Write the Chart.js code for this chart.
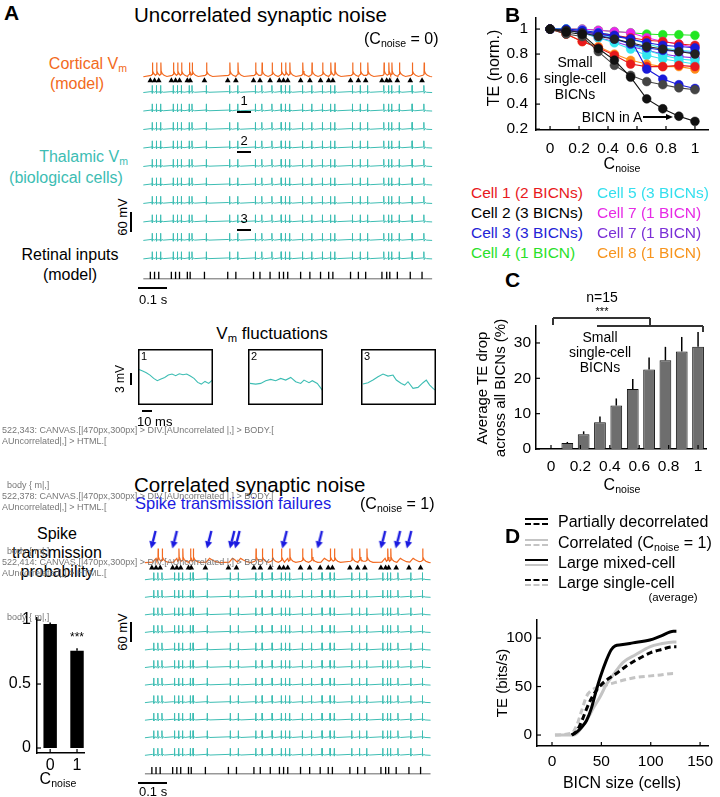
<!DOCTYPE html>
<html>
<head>
<meta charset="utf-8">
<script src="https://cdn.jsdelivr.net/npm/chart.js@4.4.1/dist/chart.umd.min.js"></script>
<style>
  body { margin: 0; background: #fff; font-family: "Liberation Sans", Arial, sans-serif; }
  #fig { position: relative; width: 720px; height: 797px; overflow: hidden; }
  #fig canvas { position: absolute; }
  .t { position: absolute; white-space: nowrap; line-height: 1; z-index: 10; }
  .t sub { font-size: 66%; vertical-align: -0.3em; line-height: 0; }
  .ln { position: absolute; z-index: 10; }
</style>
</head>
<body>
<div id="fig"></div>
<script>
// ---- data ----
// B: normalised TE vs Cnoise, one array per BICN
const cNoise = [0, 0.111, 0.222, 0.333, 0.444, 0.556, 0.667, 0.778, 0.889, 1];
const cell2BicnA = [1, 0.976, 0.957, 0.844, 0.752, 0.615, 0.442, 0.363, 0.303, 0.262];
const cell2b = [1, 0.96, 0.94, 0.82, 0.71, 0.63, 0.58, 0.555, 0.53, 0.515];
const cell2c = [1, 0.99, 0.97, 0.94, 0.92, 0.89, 0.86, 0.84, 0.82, 0.80];
const cell1a = [1, 0.99, 0.98, 0.96, 0.95, 0.93, 0.91, 0.90, 0.88, 0.87];
const cell1b = [1, 0.96, 0.90, 0.85, 0.79, 0.72, 0.70, 0.70, 0.71, 0.70];
const cell3a = [1, 0.99, 0.98, 0.96, 0.94, 0.92, 0.68, 0.60, 0.555, 0.525];
const cell3b = [1, 1, 0.99, 0.97, 0.95, 0.92, 0.89, 0.87, 0.86, 0.85];
const cell3c = [1, 0.99, 0.97, 0.95, 0.92, 0.88, 0.85, 0.83, 0.82, 0.81];
const cell4 = [1, 1, 1, 0.99, 0.98, 0.97, 0.96, 0.955, 0.955, 0.95];
const cell5a = [1, 1, 0.99, 0.96, 0.93, 0.88, 0.83, 0.79, 0.76, 0.75];
const cell5b = [1, 0.99, 0.97, 0.93, 0.89, 0.84, 0.79, 0.76, 0.74, 0.72];
const cell5c = [1, 1, 0.99, 0.97, 0.95, 0.92, 0.88, 0.85, 0.83, 0.82];
const cell7m = [1, 1, 1, 0.99, 0.98, 0.97, 0.93, 0.90, 0.88, 0.85];
const cell7p = [1, 0.99, 0.97, 0.93, 0.90, 0.86, 0.83, 0.80, 0.78, 0.77];
const cell8 = [1, 0.96, 0.90, 0.86, 0.80, 0.75, 0.72, 0.70, 0.70, 0.68];

// C: average TE drop (%) and upper error
const teDrop = [0, 1.7, 4.2, 7.6, 12.3, 17.0, 22.5, 25.1, 27.6, 28.9];
const teDropErr = [0, 0.3, 0.8, 1.6, 2.0, 2.8, 3.4, 3.8, 4.1, 4.2];
const cTicksY = [0, 10, 20, 30];

// D: TE (bits/s) vs BICN size
const mixDecX = [20, 25, 30, 35, 40, 44, 49, 55, 60, 64, 70, 82, 99, 110, 123, 126];
const mixDecY = [0, 3, 8, 15, 28, 43, 60, 77, 88, 92, 93, 95, 98, 102, 107, 107];
const mixCorX = [3, 22, 28, 35, 42, 49, 55, 62, 72, 85, 99, 110, 123, 126];
const mixCorY = [0, 0, 5, 15, 28, 40, 52, 62, 75, 83, 91, 94, 96, 96];
const sglDecX = [20, 25, 30, 35, 40, 45, 50, 57, 66, 75, 83, 92, 100, 110, 123, 126];
const sglDecY = [0, 4, 14, 27, 38, 46, 52, 58, 64, 71, 76, 81, 85, 88, 91, 91];
const sglCorX = [3, 20, 25, 30, 35, 40, 49, 60, 70, 83, 100, 110, 123, 126];
const sglCorY = [0, 2, 10, 25, 40, 46, 50, 53, 56, 59, 61, 62, 63.5, 63];

// spike transmission probability
const probNoise = [0, 1];
const probVal = [0.97, 0.76];
const probErr = [0.01, 0.02];

// A: retinal input times (ms) and cortical failures / arrows in the correlated case
const retinalMs = [25, 40, 55, 100, 115, 129, 157, 167, 218, 301, 330, 393, 416, 452, 485, 500, 515,
  561, 594, 632, 661, 676, 739, 767, 793, 851, 868, 879, 906, 952, 994];
const failMs = [25, 100, 218, 301, 330, 500, 632, 851, 906, 952];
const arrowMs = [38, 115, 239, 322, 341, 511, 638, 866, 920, 960];

// Vm fluctuation insets (ms, mV relative)
const vm1T = [0, 3.7, 7.3, 11, 14.7, 18.3, 22, 25.7, 29.3, 33, 36.7, 40.3, 44, 47.7, 51.3, 55, 58.7, 62.3, 66, 69.7, 73.3];
const vm1V = [0, -0.42, -0.83, -1.42, -2.25, -2.83, -2.42, -2.0, -1.42, -1.17, -1.58, -1.08, -1.33, -1.17, -1.67, -2.25, -3.25, -3.67, -3.0, -3.5, -2.67];
const vm2T = [1, 6.7, 11.7, 16.7, 21.7, 26.7, 31.7, 36.7, 41.7, 46.7, 51.7, 55, 60, 63.3, 68.3, 73.3];
const vm2V = [-3.5, -3.67, -3.5, -2.83, -2.5, -2.83, -2.25, -2.67, -2.0, -3.08, -3.5, -2.67, -3.33, -2.83, -3.5, -5.17];
const vm3T = [1, 6, 11, 16, 21, 26, 31, 34.3, 39.3, 42.7, 46, 51, 56, 61, 64.3, 67.7, 71, 73.3];
const vm3V = [-3.67, -3.33, -2.67, -1.83, -1.17, -1.67, -1.42, -2.67, -3.5, -3.92, -3.08, -4.75, -4.5, -3.33, -2.67, -3.92, -4.75, -5.17];

// ---- styling ----
const ORANGE = '#f26a21', TEAL = '#3dbdb3', BLUE = '#1a1ae0', GREY = '#c4c4c4';
const fig = document.getElementById('fig');
Chart.defaults.font.family = '"Liberation Sans", Arial, sans-serif';
Chart.defaults.color = '#000';
Chart.defaults.animation = false;

function txt(html, x, y, o = {}) {
  const d = document.createElement('div');
  d.className = 't';
  d.innerHTML = html;
  d.style.fontSize = (o.size || 16) + 'px';
  d.style.color = o.color || '#000';
  if (o.bold) d.style.fontWeight = 'bold';
  d.style.left = x + 'px';
  d.style.top = y + 'px';
  const ax = o.anchor === 'r' ? '-100%' : o.anchor === 'l' ? '0' : '-50%';
  d.style.transform = `translate(${ax},-50%)` + (o.rot ? ' rotate(-90deg)' : '');
  fig.appendChild(d);
  return d;
}
function rect(x, y, w, h, css) {
  const d = document.createElement('div');
  d.className = 'ln';
  Object.assign(d.style, { left: x + 'px', top: y + 'px', width: w + 'px', height: h + 'px' }, css);
  fig.appendChild(d);
}
function hline(x1, x2, y, w = 1.3, c = '#000') { rect(x1, y - w / 2, x2 - x1, w, { background: c }); }
function vline(x, y1, y2, w = 1.3, c = '#000') { rect(x - w / 2, y1, w, y2 - y1, { background: c }); }
function canvasAt(l, t, w, h) {
  const c = document.createElement('canvas');
  c.width = w; c.height = h;
  c.style.left = l + 'px'; c.style.top = t + 'px';
  fig.appendChild(c);
  return c;
}

// small inward tick marks on both axes
const inTicks = {
  id: 'inTicks',
  afterDraw(chart) {
    const { ctx, chartArea: a, scales } = chart;
    ctx.save();
    ctx.strokeStyle = '#000';
    ctx.lineWidth = 1.2;
    scales.x.ticks.forEach(t => {
      const p = scales.x.getPixelForValue(t.value);
      ctx.beginPath(); ctx.moveTo(p, a.bottom); ctx.lineTo(p, a.bottom - 4); ctx.stroke();
    });
    scales.y.ticks.forEach(t => {
      const p = scales.y.getPixelForValue(t.value);
      ctx.beginPath(); ctx.moveTo(a.left, p); ctx.lineTo(a.left + 4, p); ctx.stroke();
    });
    ctx.restore();
  }
};
// upward error bars from options.plugins.errBars.err
const errBars = {
  id: 'errBars',
  afterDatasetsDraw(chart, args, opts) {
    if (!opts.err) return;
    const { ctx, scales: { x, y } } = chart;
    ctx.save();
    ctx.strokeStyle = '#000';
    ctx.lineWidth = opts.width || 1.4;
    chart.data.datasets[0].data.forEach((d, i) => {
      if (!opts.err[i]) return;
      const px = x.getPixelForValue(d.x);
      ctx.beginPath();
      ctx.moveTo(px, y.getPixelForValue(d.y));
      ctx.lineTo(px, y.getPixelForValue(d.y + opts.err[i]));
      ctx.stroke();
    });
    ctx.restore();
  }
};

// axis chart whose plot area lands on given page coordinates
function axisChart(box, area, cfg) {
  const c = canvasAt(box.l, box.t, box.w, box.h);
  c.style.zIndex = 2;
  const yW = area.l - box.l, xH = box.t + box.h - area.b;
  const axis = (min, max, ticks, fit, pad, size) => ({
    type: 'linear', min, max, offset: false,
    grid: { display: false, drawTicks: false },
    border: { display: true, color: '#000', width: 1.5 },
    afterBuildTicks: s => { s.ticks = ticks.map(v => ({ value: v })); },
    afterFit: fit,
    ticks: { autoSkip: false, maxRotation: 0, padding: pad, font: { size }, color: '#000',
      callback: v => String(v) }
  });
  return new Chart(c, {
    type: cfg.type,
    data: { datasets: cfg.datasets },
    options: {
      responsive: false,
      animation: false,
      layout: { padding: { left: 0, bottom: 0, top: area.t - box.t, right: box.l + box.w - area.r } },
      plugins: { legend: { display: false }, tooltip: { enabled: false }, errBars: cfg.errBars || {} },
      scales: {
        x: axis(cfg.x[0], cfg.x[1], cfg.xTicks, s => { s.height = xH; }, cfg.xPad, cfg.size),
        y: axis(cfg.y[0], cfg.y[1], cfg.yTicks, s => { s.width = yW; }, cfg.yPad, cfg.size)
      }
    },
    plugins: [inTicks, errBars]
  });
}
const pts = (xs, ys) => xs.map((x, i) => ({ x, y: ys[i] }));

// ---------------- panel B ----------------
const bSeries = [
  [cell2BicnA, '#111111'], [cell2b, '#444444'], [cell2c, '#222222'],
  [cell3a, '#1a1ad8'], [cell3b, '#1a1ad8'], [cell3c, '#1a1ad8'],
  [cell1b, '#e8191c'], [cell1a, '#e8191c'],
  [cell8, '#ff8c1a'], [cell5a, '#33e6f0'], [cell5b, '#33e6f0'], [cell5c, '#33e6f0'],
  [cell7p, '#8a2be2'], [cell7m, '#ee22ee'], [cell4, '#22e622']
];
axisChart({ l: 470, t: 0, w: 250, h: 175 }, { l: 536, t: 7, r: 708, b: 130 }, {
  type: 'line',
  x: [-0.097, 1.09], xTicks: [0, 0.2, 0.4, 0.6, 0.8, 1], xPad: 9,
  y: [0.193, 1.094], yTicks: [0.2, 0.4, 0.6, 0.8, 1], yPad: 8, size: 15.5,
  datasets: bSeries.map(([v, col]) => ({
    data: pts(cNoise, v), borderColor: col, borderWidth: 1.1,
    pointRadius: 4.4, pointBackgroundColor: col, pointBorderColor: col, pointBorderWidth: 0.5
  }))
});

// ---------------- panel C ----------------
const chartC = axisChart({ l: 470, t: 300, w: 250, h: 180 }, { l: 536, t: 326, r: 706, b: 449 }, {
  type: 'bar',
  x: [-0.102, 1.054], xTicks: [0, 0.2, 0.4, 0.6, 0.8, 1], xPad: 8,
  y: [0, 34.8], yTicks: cTicksY, yPad: 5, size: 15.5,
  errBars: { err: teDropErr, width: 1.5 },
  datasets: [{
    data: pts(cNoise, teDrop), backgroundColor: '#6e6e6e', borderColor: '#111', borderWidth: 1,
    barPercentage: 0.72, categoryPercentage: 1
  }]
});

// ---------------- panel D ----------------
const dLine = (xs, ys, col, dash) => ({
  data: pts(xs, ys), borderColor: col, borderWidth: 3, borderDash: dash ? [6, 3.5] : [],
  pointRadius: 0, cubicInterpolationMode: 'monotone'
});
axisChart({ l: 470, t: 605, w: 250, h: 192 }, { l: 537, t: 620, r: 708, b: 746 }, {
  type: 'line',
  x: [-15.2, 158], xTicks: [0, 50, 100, 150], xPad: 6,
  y: [-11.3, 118.6], yTicks: [0, 50, 100], yPad: 5, size: 15.5,
  datasets: [
    dLine(mixDecX, mixDecY, '#000', false),
    dLine(sglDecX, sglDecY, '#000', true),
    dLine(mixCorX, mixCorY, GREY, false),
    dLine(sglCorX, sglCorY, GREY, true)
  ]
});

// ---------------- spike transmission probability ----------------
axisChart({ l: 0, t: 590, w: 110, h: 207 }, { l: 37, t: 618, r: 84, b: 753 }, {
  type: 'bar',
  x: [-0.49, 1.26], xTicks: [0, 1], xPad: 3,
  y: [-0.039, 1.016], yTicks: [0, 0.5, 1], yPad: 6, size: 16,
  errBars: { err: probErr, width: 1.5 },
  datasets: [{
    data: pts(probNoise, probVal), backgroundColor: '#000', borderWidth: 0,
    barPercentage: 0.5, categoryPercentage: 1
  }]
});

// ---------------- A: voltage traces ----------------
const X0 = 138.3, PXMS = 0.29, T_END = 1030;
const orangeSpike = [[-4, -1.5], [0, -2.5], [0.6, -15], [1.6, -6], [5, -3.5], [12, -1.5], [22, -0.3]];
const orangeFail = [[-4, -0.5], [3, -3], [8, -4.5], [16, -3], [30, -1], [45, 0]];
const tealSpike = [[-3, -1], [0, -1.5], [0.5, -7.5], [1.4, 0.8], [5, -1], [10, -0.3]];

function buildTrace(times, base, shape, failShape, fails, delay) {
  const out = [{ x: 0, y: base }];
  times.forEach((t0, i) => {
    const t = t0 + delay;
    const next = i + 1 < times.length ? times[i + 1] + delay - 4 : T_END;
    const sh = fails && fails.includes(t0) ? failShape : shape;
    sh.forEach(([dt, dy]) => {
      const x = t + dt;
      if (x > out[out.length - 1].x && x < next) out.push({ x, y: base + dy });
    });
  });
  out.push({ x: T_END, y: base });
  return out;
}

function arrowImage() {
  const c = document.createElement('canvas');
  c.width = 12; c.height = 19;
  const g = c.getContext('2d');
  const x1 = 8.5, y1 = 1, x2 = 4, y2 = 18.5;
  const a = Math.atan2(y2 - y1, x2 - x1), hl = 7, hw = 3.6;
  const bx = x2 - hl * Math.cos(a), by = y2 - hl * Math.sin(a);
  g.strokeStyle = g.fillStyle = BLUE;
  g.lineWidth = 2.4;
  g.beginPath(); g.moveTo(x1, y1); g.lineTo(bx, by); g.stroke();
  g.beginPath(); g.moveTo(x2, y2);
  g.lineTo(bx + hw * Math.sin(a), by - hw * Math.cos(a));
  g.lineTo(bx - hw * Math.sin(a), by + hw * Math.cos(a));
  g.closePath(); g.fill();
  return c;
}

function traceBlock(box, rows) {
  const c = canvasAt(box.l, box.t, box.w, box.h);
  const ds = [];
  ds.push({ data: buildTrace(retinalMs, rows.orange, orangeSpike, orangeFail, rows.fails, 7),
    showLine: true, borderColor: ORANGE, borderWidth: 1.2, pointRadius: 0 });
  ds.push({ data: retinalMs.map(t => ({ x: t, y: rows.tri })), showLine: false,
    pointStyle: 'triangle', pointRadius: 3.3, backgroundColor: '#000', borderColor: '#000', borderWidth: 0 });
  rows.teal.forEach(b => ds.push({ data: buildTrace(retinalMs, b, tealSpike, null, null, 6),
    showLine: true, borderColor: TEAL, borderWidth: 1, pointRadius: 0 }));
  ds.push({ data: retinalMs.map(t => ({ x: t, y: rows.ret })), showLine: false,
    pointStyle: 'line', rotation: 90, pointRadius: 3.6, borderColor: '#000', borderWidth: 1.3 });
  ds.push({ data: [{ x: 0, y: rows.ret + 3.5 }, { x: T_END, y: rows.ret + 3.5 }], showLine: true,
    borderColor: '#666', borderWidth: 1, pointRadius: 0 });
  if (rows.arrows) {
    ds.push({ data: rows.arrows.map(t => ({ x: t - 2.5 / PXMS, y: rows.arrowY })), showLine: false,
      pointStyle: arrowImage(), pointRadius: 6 });
  }
  return new Chart(c, {
    type: 'scatter',
    data: { datasets: ds },
    options: {
      responsive: false, animation: false,
      layout: { padding: 0 },
      plugins: { legend: { display: false }, tooltip: { enabled: false } },
      scales: {
        x: { type: 'linear', display: false, min: (box.l - X0) / PXMS, max: (box.l + box.w - X0) / PXMS },
        y: { type: 'linear', display: false, reverse: true, min: box.t, max: box.t + box.h }
      }
    }
  });
}

const upperTeal = [], lowerTeal = [];
for (let k = 0; k < 10; k++) upperTeal.push(89 + k * 19.3);
for (let k = 0; k < 11; k++) lowerTeal.push(576 + k * 18.5);
traceBlock({ l: 130, t: 48, w: 320, h: 250 }, { orange: 72.5, tri: 76.5, teal: upperTeal, ret: 280 });
traceBlock({ l: 130, t: 512, w: 320, h: 275 }, {
  orange: 558, tri: 563.5, teal: lowerTeal, ret: 777,
  fails: failMs, arrows: arrowMs, arrowY: 533.5
});

// Vm inset boxes
const boxPlot = {
  id: 'boxPlot',
  afterDraw(chart) {
    const { ctx, chartArea: a } = chart;
    ctx.save(); ctx.strokeStyle = '#000'; ctx.lineWidth = 1.5;
    ctx.strokeRect(a.left + 0.75, a.top + 0.75, a.right - a.left - 1.5, a.bottom - a.top - 1.5);
    ctx.restore();
  }
};
[[138, vm1T, vm1V], [248, vm2T, vm2V], [361, vm3T, vm3V]].forEach(([l, tt, vv]) => {
  const c = canvasAt(l, 349, 75, 56);
  new Chart(c, {
    type: 'scatter',
    data: { datasets: [{ data: pts(tt, vv), showLine: true, borderColor: TEAL, borderWidth: 1.1, pointRadius: 0 }] },
    options: {
      responsive: false, animation: false, layout: { padding: 0 },
      plugins: { legend: { display: false }, tooltip: { enabled: false } },
      scales: { x: { display: false, min: -1, max: 74 }, y: { display: false, min: -8.9, max: 5.1 } }
    },
    plugins: [boxPlot]
  });
});

// ---------------- texts and scale bars ----------------
const sub = s => `<sub>${s}</sub>`;
txt('A', 4, 12, { size: 21, bold: true, anchor: 'l' });
txt('Uncorrelated synaptic noise', 134, 15, { size: 20.5, anchor: 'l' });
txt(`(C${sub('noise')} = 0)`, 364, 39, { size: 16, anchor: 'l' });
txt(`Cortical V${sub('m')}`, 127, 64, { size: 16, color: ORANGE, anchor: 'r' });
txt('(model)', 77, 84, { size: 16, color: ORANGE });
txt(`Thalamic V${sub('m')}`, 128, 157, { size: 16, color: TEAL, anchor: 'r' });
txt('(biological cells)', 66, 178, { size: 16, color: TEAL });
txt('Retinal inputs', 70, 255, { size: 16 });
txt('(model)', 70, 275, { size: 16 });
txt('1', 244, 100, { size: 13 }); hline(237, 251, 112, 1.3);
txt('2', 244, 140, { size: 13 }); hline(237, 251, 152, 1.3);
txt('3', 244, 218, { size: 13 }); hline(237, 251, 230, 1.3);
txt('60 mV', 122, 217, { size: 13, rot: true }); vline(131, 212, 232, 1.3);
txt('0.1 s', 139, 299, { size: 13, anchor: 'l' }); hline(138, 167, 288, 1.3);
txt(`V${sub('m')} fluctuations`, 272, 333, { size: 17 });
txt('1', 141, 356, { size: 11, anchor: 'l' });
txt('2', 251, 356, { size: 11, anchor: 'l' });
txt('3', 364, 356, { size: 11, anchor: 'l' });
txt('3 mV', 120, 379, { size: 12, rot: true }); vline(131, 373, 385, 1.3);
txt('10 ms', 137, 421, { size: 13, anchor: 'l' }); hline(142, 152, 411, 1.3);

txt('Correlated synaptic noise', 134, 485, { size: 20.5, anchor: 'l' });
txt('Spike transmission failures', 135, 503, { size: 16.5, color: BLUE, anchor: 'l' });
txt(`(C${sub('noise')} = 1)`, 360, 504, { size: 16, anchor: 'l' });
txt('60 mV', 122, 632, { size: 13, rot: true }); vline(131, 622, 642, 1.3);
txt('0.1 s', 139, 791, { size: 13, anchor: 'l' }); hline(138, 167, 783, 1.3);

txt('Spike', 57, 534, { size: 16 });
txt('transmission', 57, 553, { size: 16 });
txt('probability', 57, 572, { size: 16 });
txt('***', 77, 637, { size: 12 });
txt(`C${sub('noise')}`, 58, 779, { size: 16 });

// B
txt('B', 505, 14, { size: 21, bold: true, anchor: 'l' });
txt('TE (norm.)', 494, 68, { size: 16, rot: true });
txt(`C${sub('noise')}`, 622, 164, { size: 16 });
txt('Small', 575, 62, { size: 14 });
txt('single-cell', 575, 78, { size: 14 });
txt('BICNs', 575, 94, { size: 14 });
txt('BICN in A', 612, 117, { size: 14 });
hline(643, 668, 117, 1.2);
rect(666, 114, 0, 0, { borderLeft: '7px solid #000', borderTop: '3px solid transparent', borderBottom: '3px solid transparent' });
const legendB = [
  ['Cell 1 (2 BICNs)', '#e8191c', 'Cell 5 (3 BICNs)', '#33dfee'],
  ['Cell 2 (3 BICNs)', '#000', 'Cell 7 (1 BICN)', '#e62be6'],
  ['Cell 3 (3 BICNs)', '#2323d6', 'Cell 7 (1 BICN)', '#7b2fd6'],
  ['Cell 4 (1 BICN)', '#2adf2a', 'Cell 8 (1 BICN)', '#f7941d']
];
legendB.forEach((r, i) => {
  txt(r[0], 471, 193 + i * 20, { size: 15.5, color: r[1], anchor: 'l' });
  txt(r[2], 597, 193 + i * 20, { size: 15.5, color: r[3], anchor: 'l' });
});

// C
txt('C', 505, 279, { size: 21, bold: true, anchor: 'l' });
txt('n=15', 602, 297, { size: 14 });
txt('***', 602, 311, { size: 11 });
hline(553, 650, 318, 1.2, '#333'); vline(553, 318, 325, 1.2, '#333'); vline(650, 318, 326, 1.2, '#333');
hline(597, 703, 326, 1.2, '#333'); vline(703, 326, 332, 1.2, '#333');
txt('Small', 600, 337, { size: 14 });
txt('single-cell', 600, 352, { size: 14 });
txt('BICNs', 600, 367, { size: 14 });
txt('Average TE drop', 481, 388, { size: 15, rot: true });
txt('across all BICNs (%)', 499, 388, { size: 15, rot: true });
txt(`C${sub('noise')}`, 622, 485, { size: 16 });

// D
txt('D', 505, 535, { size: 21, bold: true, anchor: 'l' });
const legIcon = (y, c1, d1, c2, d2) => {
  rect(525, y - 5, 23, 0, { borderTop: `2.5px ${d1 ? 'dashed' : 'solid'} ${c1}` });
  rect(525, y, 23, 0, { borderTop: `2.5px ${d2 ? 'dashed' : 'solid'} ${c2}` });
};
legIcon(523, '#000', false, '#000', true);
legIcon(544, GREY, false, GREY, true);
legIcon(564, '#000', false, GREY, false);
legIcon(584, '#000', true, GREY, true);
txt('Partially decorrelated', 558, 522, { size: 16, anchor: 'l' });
txt(`Correlated (C${sub('noise')} = 1)`, 558, 543, { size: 16, anchor: 'l' });
txt('Large mixed-cell', 558, 563, { size: 16, anchor: 'l' });
txt('Large single-cell', 558, 583, { size: 16, anchor: 'l' });
txt('(average)', 673, 598, { size: 11.5 });
txt('TE (bits/s)', 501, 683, { size: 15, rot: true });
txt('BICN size (cells)', 622, 783, { size: 16 });

// temporary: what sits over the C tick-label strip
const probe = [[522, 343], [522, 378], [522, 414]].map(([x, y]) =>
  x + ',' + y + ': ' + document.elementsFromPoint(x, y).map(e => e.tagName + '.' + e.className + '[' + (e.textContent || '').slice(0, 14) + '|' + e.style.left + ',' + e.style.top + ']').join(' > '));
const dbg = document.createElement('div');
dbg.style.cssText = 'position:absolute;left:2px;top:425px;width:460px;font-size:9px;line-height:11px;color:#777;white-space:pre-wrap;z-index:20';
dbg.textContent = probe.join('\n');
fig.appendChild(dbg);
</script>
</body>
</html>
